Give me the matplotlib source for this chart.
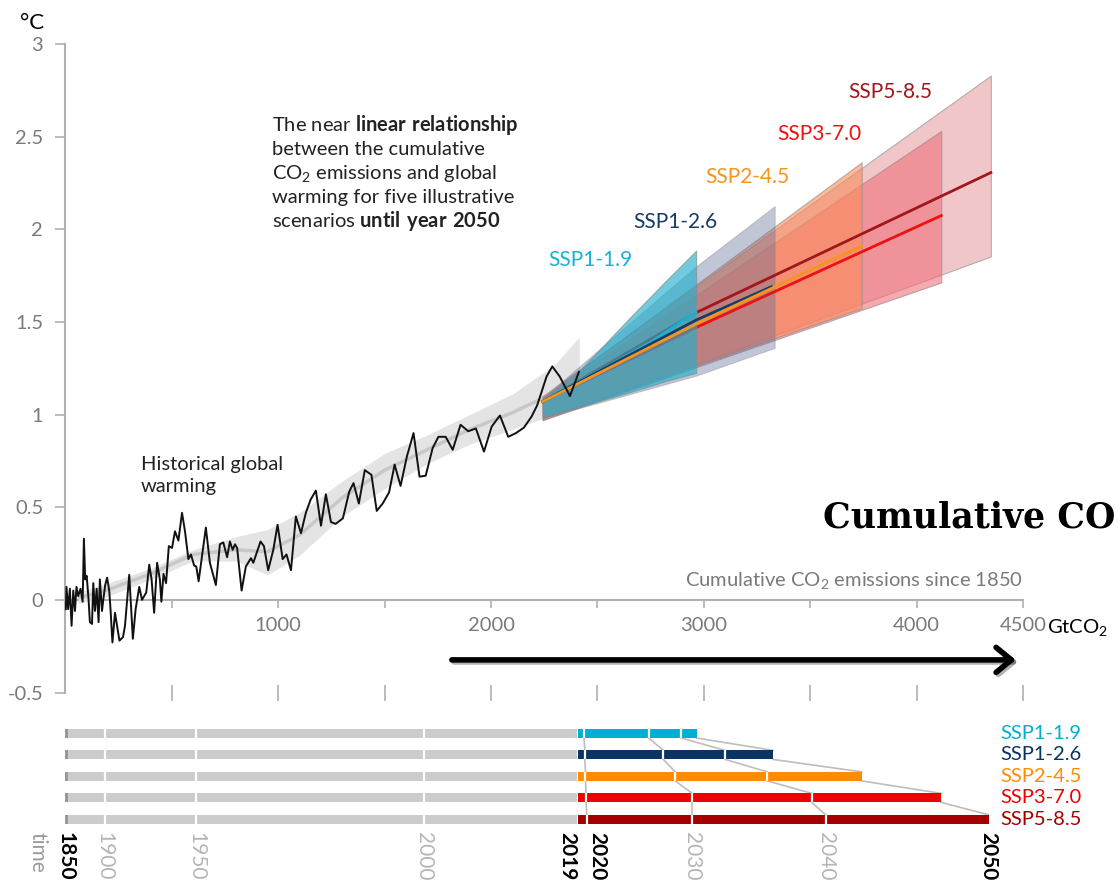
import matplotlib
matplotlib.use("Agg")
import matplotlib.pyplot as plt
import matplotlib.patheffects as pe
from matplotlib import transforms

plt.rcParams["font.family"] = ["Lato", "DejaVu Sans"]
plt.rcParams["mathtext.fontset"] = "custom"
plt.rcParams["mathtext.rm"] = "Lato"
plt.rcParams["mathtext.bf"] = "Lato:bold"
plt.rcParams["mathtext.default"] = "regular"

# ---------------------------------------------------------------- data
# historical warming vs cumulative CO2 emissions (GtCO2, degC)
hist_x = [2, 5, 13, 21, 29, 37, 45, 52, 60, 71, 81, 87, 93, 100, 109, 115, 125, 131, 139, 147,
          156, 162, 172, 178, 187, 196, 206, 212, 221, 233, 254, 271, 280, 300, 317, 330, 347,
          360, 380, 394, 405, 417, 431, 444, 451, 461, 473, 486, 501, 515, 531, 548, 562, 578,
          590, 605, 615, 626, 660, 679, 707, 726, 742, 760, 773, 786, 797, 807, 828, 848, 872,
          883, 917, 933, 953, 977, 997, 1021, 1039, 1060, 1083, 1107, 1130, 1152, 1177, 1201,
          1224, 1248, 1270, 1304, 1334, 1354, 1379, 1407, 1438, 1463, 1491, 1521, 1547, 1575,
          1605, 1636, 1664, 1693, 1726, 1753, 1787, 1820, 1857, 1893, 1929, 1967, 2003, 2042,
          2081, 2117, 2155, 2191, 2217, 2237, 2261, 2288, 2323, 2371, 2413]
hist_y = [-0.05, 0.07, -0.05, 0.06, -0.14, 0.05, -0.06, 0.07, 0.02, 0.06, -0.01, 0.33, 0.11, 0.13,
          0.0, -0.12, -0.13, 0.09, -0.06, 0.06, -0.12, 0.11, -0.06, 0.0, 0.08, 0.12, 0.05, -0.05,
          -0.23, -0.07, -0.22, -0.2, -0.14, 0.135, -0.21, -0.05, 0.07, 0.0, 0.04, 0.19, 0.11,
          -0.07, 0.2, 0.11, -0.01, 0.14, 0.09, 0.29, 0.28, 0.37, 0.32, 0.47, 0.37, 0.22, 0.245,
          0.185, 0.18, 0.10, 0.39, 0.2, 0.08, 0.3, 0.31, 0.23, 0.315, 0.27, 0.3, 0.28, 0.05, 0.18,
          0.225, 0.2, 0.315, 0.29, 0.16, 0.27, 0.405, 0.22, 0.245, 0.16, 0.45, 0.36, 0.47, 0.54,
          0.59, 0.4, 0.57, 0.42, 0.41, 0.44, 0.585, 0.63, 0.52, 0.70, 0.675, 0.48, 0.52, 0.58,
          0.73, 0.615, 0.775, 0.90, 0.665, 0.67, 0.82, 0.88, 0.88, 0.81, 0.945, 0.91, 0.925, 0.80,
          0.935, 0.995, 0.88, 0.90, 0.93, 0.99, 1.05, 1.12, 1.205, 1.26, 1.205, 1.10, 1.23]

# smoothed historical range
band_x = [60, 200, 400, 600, 800, 950, 1100, 1300, 1500, 1700, 1900, 2100, 2300, 2415]
band_lo = [-0.02, 0.02, 0.11, 0.21, 0.21, 0.135, 0.24, 0.45, 0.60, 0.735, 0.84, 0.92, 1.0, 1.06]
band_hi = [0.04, 0.09, 0.17, 0.27, 0.34, 0.38, 0.47, 0.64, 0.79, 0.89, 1.0, 1.11, 1.27, 1.42]
band_mid = [0.01, 0.055, 0.14, 0.245, 0.27, 0.26, 0.35, 0.55, 0.70, 0.81, 0.92, 1.01, 1.12, 1.22]

# scenarios until 2050
scenarios = ["SSP1-1.9", "SSP1-2.6", "SSP2-4.5", "SSP3-7.0", "SSP5-8.5"]
line_colors = ["#18B2D4", "#173C66", "#F7941D", "#EE1111", "#A0161B"]
bar_colors = ["#00AFD3", "#0A3464", "#FF8C00", "#F00000", "#A40000"]
fill_colors = ["#22B0CC", "#5E6A94", "#F98C5A", "#F0707A", "#E8A0A5"]
fill_alpha = [0.65, 0.38, 0.6, 0.6, 0.6]

ssp119_band_x = [2243, 2410, 2650, 2820, 2964]
ssp119_lo = [0.985, 1.04, 1.12, 1.18, 1.225]
ssp119_hi = [1.08, 1.23, 1.52, 1.72, 1.885]
ssp119_line_x = [2243, 2500, 2750, 2920, 2964]
ssp119_line_y = [1.07, 1.23, 1.39, 1.52, 1.55]

ssp126_band_x = [2243, 2964, 3333]
ssp126_lo = [0.98, 1.21, 1.36]
ssp126_hi = [1.09, 1.80, 2.125]
ssp126_line_x = [2243, 2600, 2964, 3318]
ssp126_line_y = [1.07, 1.29, 1.51, 1.69]

ssp245_band_x = [2243, 3742]
ssp245_lo = [0.98, 1.574]
ssp245_hi = [1.09, 2.362]
ssp245_line_x = [2243, 2964, 3742]
ssp245_line_y = [1.07, 1.49, 1.91]

ssp370_band_x = [2243, 4116]
ssp370_lo = [0.97, 1.713]
ssp370_hi = [1.09, 2.531]
ssp370_line_x = [2243, 2964, 4116]
ssp370_line_y = [1.07, 1.47, 2.074]

ssp585_band_x = [2243, 4349]
ssp585_lo = [0.97, 1.853]
ssp585_hi = [1.10, 2.83]
ssp585_line_x = [2243, 2964, 4349]
ssp585_line_y = [1.07, 1.55, 2.306]

# label anchors (left x, centre y)
label_x = [2268, 2670, 3005, 3345, 3677]
label_y = [1.832, 2.037, 2.28, 2.514, 2.74]

# time bar: cumulative emissions reached at given years
hist_years = [1850, 1900, 1950, 2000, 2019]
hist_year_emis = [0, 184, 615, 1686, 2403]
scen_start = 2411
scen_years = [2020, 2030, 2040, 2050]
ssp119_year_emis = [2437, 2741, 2893, 2966]
ssp126_year_emis = [2441, 2810, 3101, 3326]
ssp245_year_emis = [2444, 2866, 3298, 3742]
ssp370_year_emis = [2447, 2945, 3507, 4114]
ssp585_year_emis = [2450, 2945, 3572, 4338]

y_ticks = [-0.5, 0, 0.5, 1, 1.5, 2, 2.5, 3]
y_ticklabels = ["-0.5", "0", "0.5", "1", "1.5", "2", "2.5", "3"]
x_ticks = [500, 1000, 1500, 2000, 2500, 3000, 3500, 4000, 4500]
x_ticklabels = ["", "1000", "", "2000", "", "3000", "", "4000", "4500"]

ann_lines = [r"The near $\mathbf{linear\ relationship}$",
             "between the cumulative",
             r"CO$_2$ emissions and global",
             "warming for five illustrative",
             r"scenarios $\mathbf{until\ year\ 2050}$"]

# ---------------------------------------------------------------- figure
W_PX, H_PX = 1118, 882
fig = plt.figure(figsize=(W_PX / 100, H_PX / 100), dpi=100)
L = 65.4 / W_PX
AW = (1023 - 65.4) / W_PX
ax = fig.add_axes([L, 1 - 692.5 / H_PX, AW, (692.5 - 44) / H_PX])
ax.set_xlim(0, 4500)
ax.set_ylim(-0.5, 3)

axis_grey = "#B0B0B0"
tick_grey = "#7A7A7A"
for s in ["top", "right", "bottom"]:
    ax.spines[s].set_visible(False)
ax.spines["left"].set_color(axis_grey)
ax.spines["left"].set_linewidth(1.5)
ax.set_yticks(y_ticks, y_ticklabels)
ax.tick_params(axis="y", length=7, width=1.2, color=axis_grey, labelcolor=tick_grey,
               labelsize=14.5, pad=9)
ax.set_xticks(x_ticks)
ax.tick_params(axis="x", direction="inout", length=12, width=1.2, color=axis_grey,
               labelbottom=False)

# x axis drawn at y = 0
sec = ax.secondary_xaxis(0.5 / 3.5)
sec.set_xticks(x_ticks, x_ticklabels)
sec.spines["bottom"].set_color(axis_grey)
sec.spines["bottom"].set_linewidth(1.5)
sec.tick_params(axis="x", length=6, width=1.2, color=axis_grey, labelcolor=tick_grey,
                labelsize=14.5, pad=6)

# historical range and line
ax.fill_between(band_x, band_lo, band_hi, color="#E4E4E4", lw=0, zorder=1)
ax.plot(band_x, band_mid, color="#C8C8C8", lw=2.5, zorder=1.1, solid_capstyle="butt")

bands = [(ssp119_band_x, ssp119_lo, ssp119_hi), (ssp126_band_x, ssp126_lo, ssp126_hi),
         (ssp245_band_x, ssp245_lo, ssp245_hi), (ssp370_band_x, ssp370_lo, ssp370_hi),
         (ssp585_band_x, ssp585_lo, ssp585_hi)]
lines = [(ssp119_line_x, ssp119_line_y), (ssp126_line_x, ssp126_line_y),
         (ssp245_line_x, ssp245_line_y), (ssp370_line_x, ssp370_line_y),
         (ssp585_line_x, ssp585_line_y)]
band_z = [2.5, 2.3, 2.2, 2.1, 2.0]
line_z = [3.2, 3.3, 3.4, 2.36, 2.35]

for i in range(5):
    bx, lo, hi = bands[i]
    ax.fill_between(bx, lo, hi, color=fill_colors[i], alpha=fill_alpha[i],
                    edgecolor="#8A8A8A", lw=0.8, zorder=band_z[i])
    lx, ly = lines[i]
    ax.plot(lx, ly, color=line_colors[i], lw=2, zorder=line_z[i])
    ax.text(label_x[i], label_y[i], scenarios[i], color=line_colors[i], fontsize=15,
            ha="left", va="center")

ax.plot(hist_x, hist_y, color="#111111", lw=1.4, zorder=5)

# annotations
for k, t in enumerate(ann_lines):
    ax.text(970, 2.528 - k * 0.1295, t, fontsize=14.5, color="#222222",
            ha="left", va="baseline")
ax.text(355, 0.70, "Historical global", fontsize=14.5, color="#222222", va="baseline")
ax.text(355, 0.58, "warming", fontsize=14.5, color="#222222", va="baseline")
ax.text(4500, 0.0755, r"Cumulative CO$_2$ emissions since 1850", fontsize=14.5,
        color=tick_grey, ha="right", va="baseline")
ax.text(4612, -0.178, r"GtCO$_2$", fontsize=14.5, color="black", ha="left", va="baseline")

arr = ax.annotate("", xy=(4466, -0.324), xytext=(1816, -0.324),
                  arrowprops=dict(arrowstyle="->,head_length=0.55,head_width=0.45",
                                  lw=4, color="black", mutation_scale=20,
                                  shrinkA=0, shrinkB=0))
arr.arrow_patch.set_path_effects([pe.SimpleLineShadow(offset=(1.5, -1.5), alpha=0.3),
                                  pe.Normal()])

fig.text(20 / W_PX, 1 - 29 / H_PX, "°C", fontsize=16, color="black", va="baseline")
fig.text(822.7 / W_PX, 1 - 527 / H_PX, "Cumulative CO", family="DejaVu Serif",
         fontweight="bold", fontsize=25, color="black", va="baseline")

# ---------------------------------------------------------------- time bars
axb = fig.add_axes([L, 1 - 830 / H_PX, AW, (830 - 722.75) / H_PX])
axb.set_xlim(0, 4500)
axb.set_ylim(4.5, -0.5)
axb.axis("off")
bh = 0.42
year_marks = [ssp119_year_emis, ssp126_year_emis, ssp245_year_emis,
              ssp370_year_emis, ssp585_year_emis]

for i in range(5):
    marks = year_marks[i]
    axb.barh(i, hist_year_emis[-1], height=bh, color="#CCCCCC", lw=0)
    axb.barh(i, 10, height=bh, color="#999999", lw=0)
    axb.barh(i, marks[-1] - scen_start, left=scen_start, height=bh, color=bar_colors[i], lw=0)
    axb.vlines(hist_year_emis[1:4], i - bh / 2, i + bh / 2, color="white", lw=1.6)
    axb.vlines(marks[:3], i - bh / 2, i + bh / 2, color="white", lw=1.6)
    axb.text(4395, i, scenarios[i], color=bar_colors[i], fontsize=14.5, ha="left",
             va="center")

for k in range(4):
    for i in range(4):
        axb.plot([year_marks[i][k], year_marks[i + 1][k]], [i + bh / 2, i + 1 - bh / 2],
                 color="#BDBDBD", lw=1.2, zorder=0.5)

tr = transforms.blended_transform_factory(axb.transData, axb.transAxes)
year_style = {1850: ("black", "bold", "center"), 1900: ("#B5B5B5", "normal", "center"),
              1950: ("#B5B5B5", "normal", "center"), 2000: ("#B5B5B5", "normal", "center"),
              2019: ("black", "bold", "right"), 2020: ("black", "bold", "left"),
              2030: ("#B5B5B5", "normal", "center"), 2040: ("#B5B5B5", "normal", "center"),
              2050: ("black", "bold", "center")}
label_years = hist_years + scen_years
label_pos = hist_year_emis + ssp585_year_emis
for yr, xp in zip(label_years, label_pos):
    c, w, ha = year_style[yr]
    axb.text(xp, -0.015, str(yr), rotation=270, color=c, fontweight=w, fontsize=15,
             ha=ha, va="top", transform=tr)
axb.text(-131, -0.015, "time", rotation=270, color="#9A9A9A", fontsize=15, ha="center",
         va="top", transform=tr)

fig.savefig("out.png", dpi=100)
